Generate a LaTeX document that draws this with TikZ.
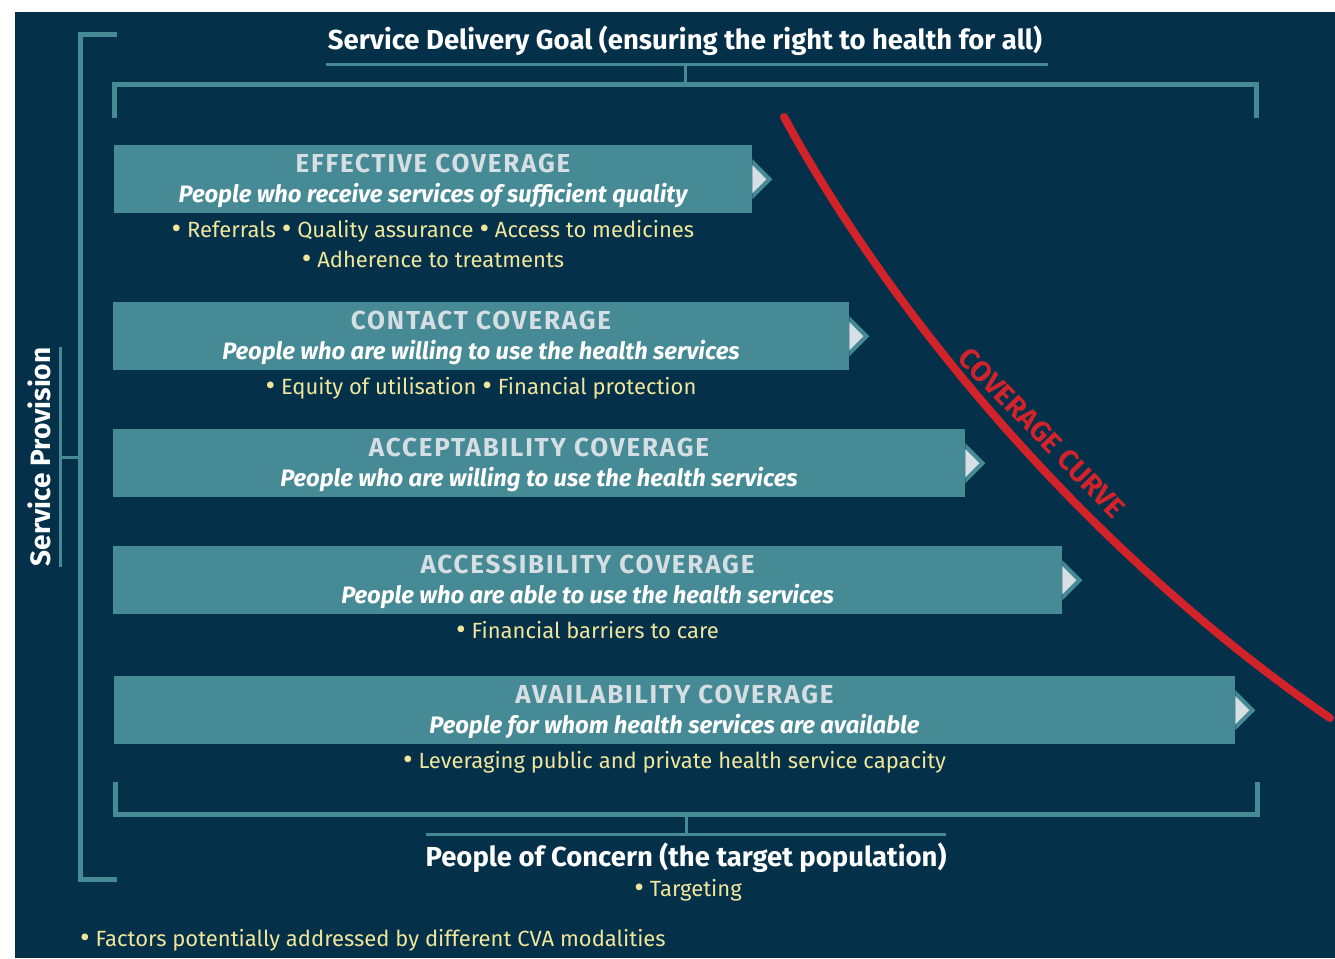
\documentclass[tikz,border=0pt]{standalone}
\usepackage{fontspec}
\usepackage{graphicx}
\setmainfont{Fira Sans}
\newfontfamily\capfont{Fira Sans}[LetterSpace=7]
\usetikzlibrary{calc}

\definecolor{bg}{HTML}{05304A}
\definecolor{band}{HTML}{468A95}
\definecolor{tipfill}{HTML}{D6E0E4}
\definecolor{captxt}{HTML}{D5DEE2}
\definecolor{notecol}{HTML}{EFE69B}
\definecolor{curvecol}{HTML}{D2232B}

% a slightly larger bullet for the factor lists
\newcommand\bul{\raisebox{-0.07em}{\scalebox{1.35}{•}}}

\tikzset{
  bar/.style={fill=band, inner sep=0, minimum height=68, anchor=north west},
  captitle/.style={anchor=base, text=captxt, inner sep=0, font=\capfont\bfseries\fontsize{26}{30}\selectfont},
  subtitle/.style={anchor=base, text=white, inner sep=0, font=\bfseries\itshape\fontsize{23.8}{28}\selectfont},
  factor/.style={anchor=base, text=notecol, inner sep=0, font=\fontsize{22}{26}\selectfont},
  frameline/.style={draw=band, line width=5},
  thinline/.style={draw=band, line width=3},
  heading/.style={anchor=base, text=white, inner sep=0, font=\bfseries\fontsize{27.5}{32}\selectfont},
}

% arrow tip at the right end of a coverage bar
\newcommand\bartip[1]{%
  \fill[band] (#1.east) ++(0,-20) -- ++(20,20) -- ++(-20,20) -- cycle;
  \fill[tipfill] (#1.east) ++(0,-14) -- ++(14,14) -- ++(-14,14) -- cycle;}

\begin{document}
\begin{tikzpicture}[x=1pt,y=-1pt]
\useasboundingbox (0,0) rectangle (1335,958);
\fill[white] (0,0) rectangle (1335,958);
\fill[bg] (15,12) rectangle (1335,958);

% outer bracket: service provision
\draw[frameline] (117,34.5) -- (80.5,34.5) -- (80.5,879.5) -- (117,879.5);
\coordinate (spmid) at (80.5,457);
\coordinate (spbar) at (60,457);
\draw[thinline] (spmid) -- (spbar);
\draw[thinline] (60,347) -- (60,567);
\node[heading, rotate=90, font=\bfseries\fontsize{28}{32}\selectfont] (sp) at (50,457) {Service Provision};

% goal heading and top bracket
\node[heading] (goal) at (685,50) {Service Delivery Goal (ensuring the right to health for all)};
\coordinate (goalline) at (685,65);
\coordinate (topbr) at (685,84.5);
\draw[thinline] (326,65) -- (1048,65);
\draw[thinline] (goalline) -- (topbr);
\draw[frameline] (114,118) -- (114,84.5) -- (1256,84.5) -- (1256,118);

% coverage bars
\node[bar, minimum width=638] (eff) at (114,145) {};
\node[bar, minimum width=736] (con) at (113,302) {};
\node[bar, minimum width=852] (acc) at (113,429) {};
\node[bar, minimum width=949] (acs) at (113,546) {};
\node[bar, minimum width=1121] (ava) at (114,676) {};
\bartip{eff}\bartip{con}\bartip{acc}\bartip{acs}\bartip{ava}

\node[captitle] (effT) at (433,172.5) {EFFECTIVE COVERAGE};
\node[subtitle] (effS) at (433,202) {People who receive services of sufficient quality};
\node[factor] (effF1) at (433,237) {\bul\ Referrals \bul\ Quality assurance \bul\ Access to medicines};
\node[factor] (effF2) at (433,267) {\bul\ Adherence to treatments};

\node[captitle] (conT) at (481,329.5) {CONTACT COVERAGE};
\node[subtitle] (conS) at (481,359) {People who are willing to use the health services};
\node[factor] (conF) at (481,394) {\bul\ Equity of utilisation \bul\ Financial protection};

\node[captitle] (accT) at (539,456.5) {ACCEPTABILITY COVERAGE};
\node[subtitle] (accS) at (539,486) {People who are willing to use the health services};

\node[captitle] (acsT) at (587.5,573.5) {ACCESSIBILITY COVERAGE};
\node[subtitle] (acsS) at (587.5,603) {People who are able to use the health services};
\node[factor] (acsF) at (587.5,638) {\bul\ Financial barriers to care};

\node[captitle] (avaT) at (674.5,703.5) {AVAILABILITY COVERAGE};
\node[subtitle] (avaS) at (674.5,733) {People for whom health services are available};
\node[factor] (avaF) at (674.5,768) {\bul\ Leveraging public and private health service capacity};

% bottom bracket: people of concern
\draw[frameline] (115.5,782) -- (115.5,814.5) -- (1257,814.5) -- (1257,782);
\coordinate (botbr) at (686,814.5);
\coordinate (popline) at (686,834);
\draw[thinline] (botbr) -- (popline);
\draw[thinline] (426,834) -- (946,834);
\node[heading] (pop) at (686,866) {People of Concern (the target population)};
\node[factor] (tgt) at (688,896) {\bul\ Targeting};
\node[factor, anchor=base west] (key) at (80,946) {\bul\ Factors potentially addressed by different CVA modalities};

% coverage curve
\coordinate (cvA) at (784,117);
\coordinate (cvB) at (1330,718);
\draw[curvecol, line width=8, line cap=round] (cvA) .. controls (900,330) and (1100,560) .. (cvB);
\node[rotate=-45.7, text=curvecol, inner sep=0, font=\bfseries\fontsize{28.5}{32}\selectfont] (cvlabel) at (1042,433) {COVERAGE CURVE};
\end{tikzpicture}
\end{document}
